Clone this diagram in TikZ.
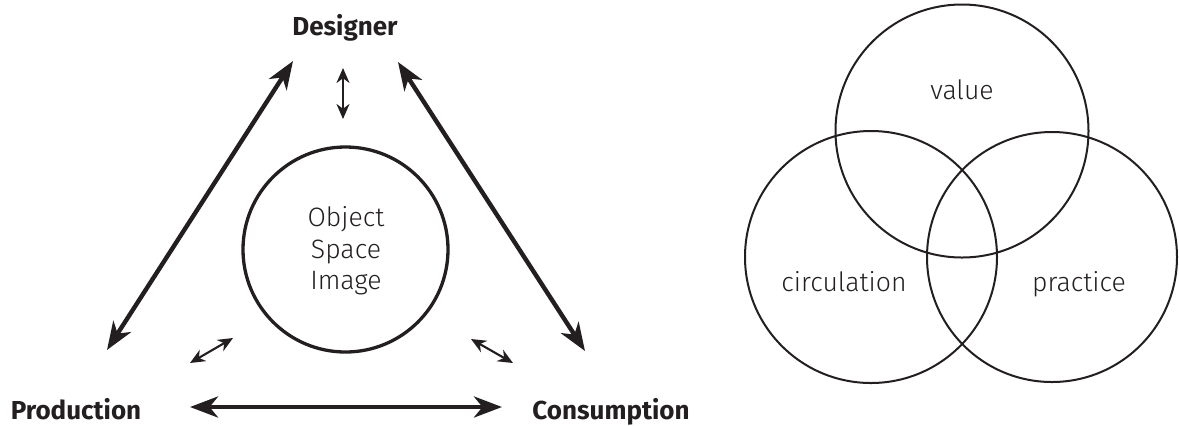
\documentclass[tikz,border=0pt]{standalone}
\usepackage{fontspec}
\setmainfont{Fira Sans}
\newfontfamily\lightfont{Fira Sans Light}
\usetikzlibrary{arrows.meta}
\definecolor{ink}{HTML}{231F20}
\begin{document}
\begin{tikzpicture}[x=0.5pt,y=-0.5pt,
        bigarr/.style={{Stealth[length=14pt,width=10.5pt,inset=4.2pt]}-{Stealth[length=14pt,width=10.5pt,inset=4.2pt]},line width=2.2pt,draw=ink},
        smallarr/.style={{Stealth[length=7.5pt,width=6.5pt,inset=2.4pt]}-{Stealth[length=7.5pt,width=6.5pt,inset=2.4pt]},line width=1.05pt,draw=ink},
        pole/.style={font=\bfseries\fontsize{13}{15}\selectfont,text=ink,anchor=base},
        thin/.style={font=\lightfont\fontsize{13.3}{15.75}\selectfont,text=ink,align=center}]
    \useasboundingbox (0,0) rectangle (1179,425);
    % left: triangle of relations
    \node[pole] (des) at (345,35) {Designer};
    \node[pole] (pro) at (76,419) {Production};
    \node[pole] (con) at (611,419) {Consumption};
    \draw[line width=1.65pt,ink] (345.5,249.5) circle (102.5);
    \node[thin] (osi) at (346,251) {Object\\Space\\Image};
    \coordinate (d1) at (293,61);
    \coordinate (p1) at (107,350);
    \coordinate (d2) at (398,62);
    \coordinate (c1) at (585,351);
    \coordinate (p2) at (190,407);
    \coordinate (c2) at (502,407);
    \draw[bigarr] (p1) -- (d1);
    \draw[bigarr] (d2) -- (c1);
    \draw[bigarr] (p2) -- (c2);
    \coordinate (d3) at (343,68);
    \coordinate (o1) at (343,119);
    \coordinate (p3) at (190,363);
    \coordinate (o2) at (233,338);
    \coordinate (o3) at (471,339);
    \coordinate (c3) at (513,363);
    \draw[smallarr] (d3) -- (o1);
    \draw[smallarr] (p3) -- (o2);
    \draw[smallarr] (o3) -- (c3);
    % right: three circles
    \draw[line width=1pt,ink] (962,131) circle (126.5);
    \draw[line width=1pt,ink] (871,257) circle (126);
    \draw[line width=1pt,ink] (1052,257) circle (125);
    \node[thin,anchor=base] (val) at (962,99) {value};
    \node[thin,anchor=base] (cir) at (844,291) {circulation};
    \node[thin,anchor=base] (pra) at (1079,291) {practice};
\end{tikzpicture}
\end{document}
